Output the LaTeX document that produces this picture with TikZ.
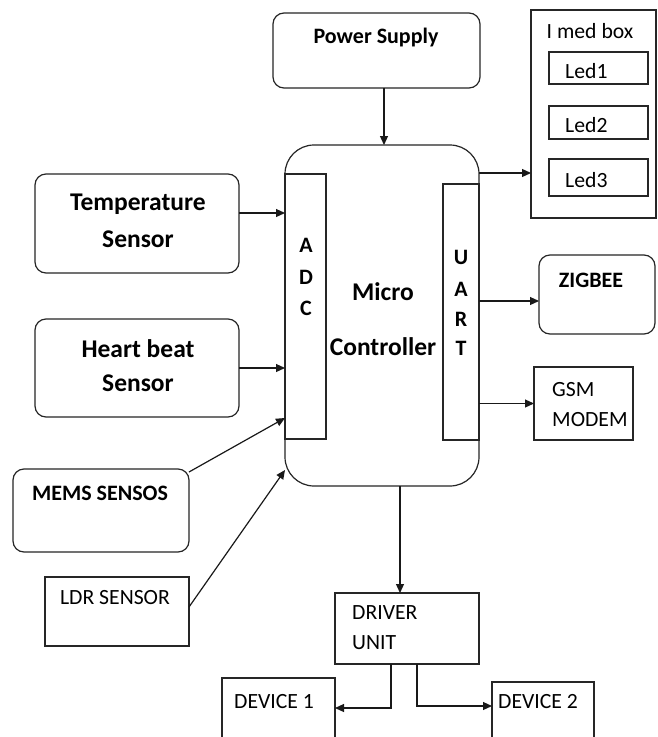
\documentclass[tikz,border=0pt]{standalone}
\usepackage{fontspec}
\setmainfont{Carlito}
\usetikzlibrary{arrows.meta}
\tikzset{
  box/.style={draw=black!85, line width=1.2pt, inner sep=0pt, outer sep=0pt, anchor=north west},
  rbox/.style={box, rounded corners=11pt},
  arr/.style={-{Triangle[length=9pt,width=8pt]}, line width=1.2pt, draw=black!90},
  bt/.style={font=\fontsize{22}{26}\selectfont\bfseries, inner sep=0pt},
  bbt/.style={font=\fontsize{25.5}{30}\selectfont\bfseries, inner sep=0pt},
  rt/.style={font=\fontsize{21.7}{26}\selectfont, inner sep=0pt},
  lt/.style={rt, anchor=west},
}
\begin{document}
\begin{tikzpicture}[x=1pt,y=-1pt]
\clip (0,0) rectangle (657,737);
\fill[white] (0,0) rectangle (657,737);
% boxes
\node[rbox, minimum width=207pt, minimum height=75pt] (ps) at (273,13) {};
\node[box, rounded corners=29pt, minimum width=194pt, minimum height=341pt] (mc) at (285,145) {};
\node[box, fill=white, minimum width=41pt, minimum height=265pt] (adc) at (285,174) {};
\node[box, fill=white, minimum width=36pt, minimum height=256pt] (uart) at (443,184) {};
\node[box, minimum width=125pt, minimum height=208pt] (med) at (531,10) {};
\node[box, minimum width=99pt, minimum height=32pt] (led1) at (549,52) {};
\node[box, minimum width=99pt, minimum height=33pt] (led2) at (549,106) {};
\node[box, minimum width=99pt, minimum height=37pt] (led3) at (549,159) {};
\node[rbox, minimum width=204pt, minimum height=99pt] (temp) at (35,174) {};
\node[rbox, minimum width=204pt, minimum height=98pt] (heart) at (35,319) {};
\node[rbox, minimum width=176pt, minimum height=83pt] (mems) at (13,469) {};
\node[box, minimum width=144pt, minimum height=69pt] (ldr) at (45,577) {};
\node[box, minimum width=144pt, minimum height=71pt] (driver) at (335,593) {};
\node[box, minimum width=113pt, minimum height=80pt] (dev1) at (222,678) {};
\node[box, minimum width=102pt, minimum height=80pt] (dev2) at (492,682) {};
\node[rbox, minimum width=116pt, minimum height=79pt] (zig) at (539,255) {};
\node[box, minimum width=99pt, minimum height=73pt] (gsm) at (534,367) {};
% texts
\node[bt] (tps) at (376,38) {Power Supply};
\node[bbt] (tmicro) at (383,292) {Micro};
\node[bbt] (tctrl) at (383,347) {Controller};
\node[bt] (ta) at (306,245) {A};
\node[bt] (td) at (306,277) {D};
\node[bt] (tc) at (306,308) {C};
\node[bt] (tu) at (461,257) {U};
\node[bt] (ta2) at (461,289) {A};
\node[bt] (tr) at (461,319) {R};
\node[bt] (tt) at (461,348) {T};
\node[rt] (tmed) at (590,31) {I med box};
\node[lt] (tl1) at (565,71) {Led1};
\node[lt] (tl2) at (565,125) {Led2};
\node[lt] (tl3) at (565,180) {Led3};
\node[bbt] (ttemp1) at (138,204) {Temperature};
\node[bbt] (ttemp2) at (138,239) {Sensor};
\node[bbt] (theart1) at (138,349) {Heart beat};
\node[bbt] (theart2) at (138,383) {Sensor};
\node[bt] (tmems) at (100,493) {MEMS SENSOS};
\node[rt] (tldr) at (115,598) {LDR SENSOR};
\node[lt] (tdrv1) at (352,613) {DRIVER};
\node[lt] (tdrv2) at (352,643) {UNIT};
\node[lt] (tdev1) at (234,702) {DEVICE 1};
\node[lt] (tdev2) at (498,702) {DEVICE 2};
\node[bt] (tzig) at (591,280) {ZIGBEE};
\node[lt] (tgsm1) at (552,390) {GSM};
\node[lt] (tgsm2) at (552,420) {MODEM};
% connector coordinates
\coordinate (p0) at ([xshift=7.5pt]ps.south);
\coordinate (m0) at ([yshift=-28pt]mc.north east);
\coordinate (t0) at ([yshift=10.5pt]temp.east);
\coordinate (ms0) at ([yshift=-3pt]mems.north east);
\coordinate (ms1) at ([yshift=21pt]adc.south west);
\coordinate (l0) at ([yshift=-30pt]ldr.north east);
\coordinate (l1) at ([yshift=16pt]mc.south west);
\coordinate (d0) at ([xshift=-7pt]driver.north);
\coordinate (d1) at ([xshift=-16pt]driver.south);
\coordinate (e1) at ([yshift=-30pt]dev1.north east);
\coordinate (d2) at ([xshift=10pt]driver.south);
\coordinate (e2) at ([yshift=-24pt]dev2.north west);
\coordinate (z0) at ([yshift=-6.5pt]zig.west);
% connectors
\draw[arr] (p0) -- (p0 |- mc.north);
\draw[arr] (m0) -- (m0 -| med.west);
\draw[arr] (t0) -- (t0 -| adc.west);
\draw[arr] (heart.east) -- (heart.east -| adc.west);
\draw[arr] (ms0) -- (ms1);
\draw[arr] (l0) -- (l1);
\draw[arr] (d0 |- mc.south) -- (d0);
\draw[arr] (d1) |- (e1);
\draw[arr] (d2) |- (e2);
\draw[arr] (z0 -| uart.east) -- (z0);
\draw[arr] (gsm.west -| uart.east) -- (gsm.west);
\end{tikzpicture}
\end{document}
